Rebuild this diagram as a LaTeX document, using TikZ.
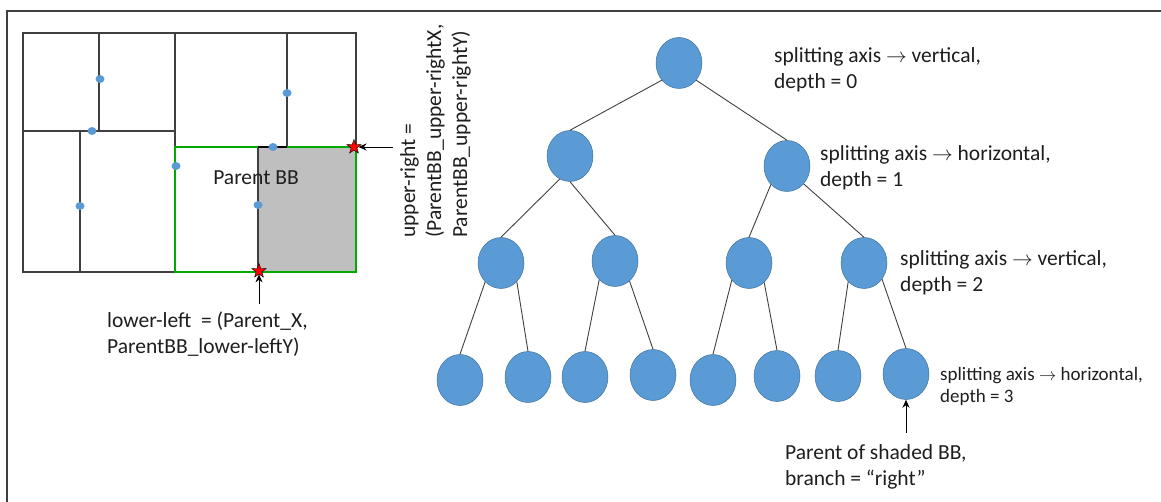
\documentclass[tikz,border=0pt]{standalone}
\usepackage{fontspec}
\setmainfont{Carlito}
\usetikzlibrary{shapes.geometric}
\usetikzlibrary{arrows.meta}
\definecolor{nodeblue}{RGB}{91,155,213}
\definecolor{nodeline}{RGB}{65,113,156}
\definecolor{bbgreen}{RGB}{0,170,0}
\definecolor{gridline}{RGB}{64,64,64}
\definecolor{txt}{RGB}{30,30,30}
\newcommand{\TS}{\fontsize{21.5}{26}\selectfont}
\newcommand{\ts}{\fontsize{19}{22}\selectfont}
\newcommand{\lw}{1.2pt}
\tikzset{
    kdnode/.style={ellipse,fill=nodeblue,draw=nodeline,line width=0.5pt,minimum width=46pt,minimum height=51pt,inner sep=0pt},
    kdedge/.style={draw=gridline,line width=0.9pt},
    splitpt/.style={ellipse,fill=nodeblue,minimum width=9pt,minimum height=8pt,inner sep=0pt},
    cornerstar/.style={star,star points=5,star point ratio=2.4,fill=red,draw=black,line width=0.4pt,minimum size=15pt,inner sep=0pt},
    note/.style={align=left,inner sep=0pt,text=txt,font=\TS},
    pointer/.style={-{Stealth[length=8pt,width=7pt]},line width=0.9pt,black}
}

\begin{document}
\begin{tikzpicture}[x=1pt,y=-1pt]
    \useasboundingbox (0,0) rectangle (1161,502);
    \draw[gridline,line width=1.5pt] (1161,11) -- (7,11) -- (7,502);

    % bounding boxes
    \fill[black!25] (258,147) rectangle (356,272);
    \draw[gridline,line width=\lw] (23,33) rectangle (356,272);
    \draw[gridline,line width=\lw] (175,33) -- (175,272);
    \draw[gridline,line width=\lw] (23,131) -- (175,131);
    \draw[gridline,line width=\lw] (99,33) -- (99,131);
    \draw[gridline,line width=\lw] (80,131) -- (80,272);
    \draw[gridline,line width=\lw] (287,33) -- (287,147);
    \draw[gridline,line width=\lw] (258,147) -- (258,272);
    \draw[bbgreen,line width=2pt] (175,147) rectangle (356,272);
    \draw[black,line width=2.2pt] (258,147) -- (287,147);

    \node[splitpt] (p1) at (100,79) {};
    \node[splitpt] (p2) at (92,131) {};
    \node[splitpt] (p3) at (80,206) {};
    \node[splitpt] (p4) at (176,166) {};
    \node[splitpt] (p5) at (287,93) {};
    \node[splitpt] (p6) at (273,147) {};
    \node[splitpt] (p7) at (258,205) {};

    \node[note] (bblabel) at (256,178) {Parent BB};
    \node[cornerstar] (llstar) at (259,271) {};
    \node[cornerstar] (urstar) at (354,147) {};

    \coordinate (llfoot) at (259,304);
    \coordinate (urfoot) at (393,147);
    \draw[pointer] (llfoot) -- (llstar);
    \draw[pointer] (urfoot) -- (urstar);

    \node[note,anchor=west] (lltext) at (107,334) {lower-left\ \ = (Parent\_X,\\ParentBB\_lower-leftY)};
    \node[note,rotate=90,anchor=north west] (urtext) at (400,238) {upper-right =\\(ParentBB\_upper-rightX,\\ParentBB\_upper-rightY)};

    % kd-tree
    \node[kdnode] (root) at (679,63) {};
    \node[kdnode] (n1) at (570,156) {};
    \node[kdnode] (n2) at (787,166) {};
    \node[kdnode] (n11) at (501,263) {};
    \node[kdnode] (n12) at (615,261) {};
    \node[kdnode] (n21) at (749,263) {};
    \node[kdnode] (n22) at (864,263) {};
    \node[kdnode] (l1) at (460,380) {};
    \node[kdnode] (l2) at (528,377) {};
    \node[kdnode] (l3) at (585,377) {};
    \node[kdnode] (l4) at (653,375) {};
    \node[kdnode] (l5) at (713,380) {};
    \node[kdnode] (l6) at (777,376) {};
    \node[kdnode] (l7) at (838,376) {};
    \node[kdnode] (l8) at (906,374) {};

    \draw[kdedge] (root.225) -- (n1.north);
    \draw[kdedge] (root.-45) -- (n2.north);
    \draw[kdedge] (n1.246) -- (n11.north);
    \draw[kdedge] (n1.south) -- (n12.north);
    \draw[kdedge] (n2.229) -- (n21.north);
    \draw[kdedge] (n2.-47) -- (n22.north);
    \draw[kdedge] (n11.230) -- (l1.north);
    \draw[kdedge] (n11.-50) -- (l2.north);
    \draw[kdedge] (n12.230) -- (l3.north);
    \draw[kdedge] (n12.-54) -- (l4.north);
    \draw[kdedge] (n21.225) -- (l5.north);
    \draw[kdedge] (n21.-52) -- (l6.north);
    \draw[kdedge] (n22.230) -- (l7.north);
    \draw[kdedge] (n22.-42) -- (l8.north);

    \node[note,anchor=west] (d0) at (774,70) {splitting axis $\rightarrow$ vertical,\\depth = 0};
    \node[note,anchor=west] (d1) at (820,168) {splitting axis $\rightarrow$ horizontal,\\depth = 1};
    \node[note,anchor=west] (d2) at (900,273) {splitting axis $\rightarrow$ vertical,\\depth = 2};
    \node[note,font=\ts,anchor=west] (d3) at (940,386) {splitting axis $\rightarrow$ horizontal,\\depth = 3};

    \coordinate (pfoot) at (906,433);
    \draw[pointer] (pfoot) -- (l8);
    \node[note,anchor=west] (ptext) at (785,467) {Parent of shaded BB,\\branch = “right”};
\end{tikzpicture}
\end{document}
